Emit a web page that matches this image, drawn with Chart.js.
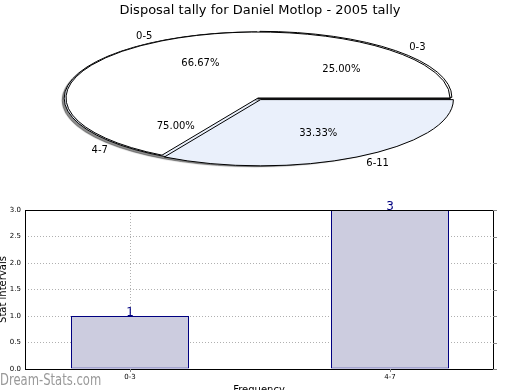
<!doctype html>
<html lang="en">
<head>
<meta charset="utf-8">
<style>
  * { margin: 0; padding: 0; }
  body { background: #fff; width: 520px; height: 390px; overflow: hidden; position: relative; }
  .layer { position: absolute; left: 0; top: 0; }
</style>
</head>
<body>
<canvas id="barChart" class="layer" width="520" height="390"></canvas>
<canvas id="pieBack" class="layer" width="520" height="200"></canvas>
<canvas id="pieFront" class="layer" width="520" height="200"></canvas>

<script src="https://cdn.jsdelivr.net/npm/chart.js/dist/chart.umd.min.js"></script>
<script>
// data
const barLabels = ['0-3', '4-7'];
const barValues = [1, 3];
const backLabels = ['0-3', '4-7'];
const backValues = [1, 3];
const frontLabels = ['0-5', '6-11'];
const frontValues = [2, 1];
const yTicks = [0, 0.5, 1, 1.5, 2, 2.5, 3];

const FONT = '"DejaVu Sans", sans-serif';
Chart.defaults.font.family = FONT;
Chart.defaults.animation = false;

// squash the round pie into the flat ellipse of the original
const ellipse = {
  id: 'ellipse',
  beforeDatasetsDraw(chart, args, opts) {
    const arc = chart.getDatasetMeta(0).data[0];
    const ctx = chart.ctx;
    const dpr = chart.currentDevicePixelRatio;
    ctx.save();
    ctx.translate(opts.cx, opts.cy);
    ctx.scale(opts.rx / arc.outerRadius, opts.ry / arc.outerRadius);
    ctx.translate(-arc.x, -arc.y);
    if (opts.shadow) {
      ctx.shadowColor = 'rgba(0,0,0,0.45)';
      ctx.shadowOffsetX = -2;
      ctx.shadowOffsetY = 2;
      ctx.shadowBlur = 1;
    }
    // keep outlines 1px wide whatever the squash
    ctx.stroke = function () {
      this.save();
      this.setTransform(dpr, 0, 0, dpr, 0, 0);
      CanvasRenderingContext2D.prototype.stroke.call(this);
      this.restore();
    };
  },
  afterDatasetsDraw(chart) {
    delete chart.ctx.stroke;
    chart.ctx.restore();
  }
};

const pieGeom = { cx: 258, cy: 98, rx: 192, ry: 66 };

function ellipsePoint(c, arc, k) {
  const mid = (arc.startAngle + arc.endAngle) / 2;
  const shift = (arc.options.offset || 0) / 4 / arc.outerRadius;
  const f = k + shift;
  return {
    x: pieGeom.cx + pieGeom.rx * f * Math.cos(mid),
    y: pieGeom.cy + pieGeom.ry * f * Math.sin(mid),
    cos: Math.cos(mid)
  };
}

let backChart;

// names and percentages of both pies, drawn last so nothing covers them
const sliceLabels = {
  id: 'sliceLabels',
  afterDraw(chart) {
    const ctx = chart.ctx;
    ctx.save();
    ctx.font = '10px ' + FONT;
    ctx.fillStyle = '#000';
    ctx.textBaseline = 'middle';
    [backChart, chart].forEach(c => {
      const names = c.data.labels;
      c.getDatasetMeta(0).data.forEach((arc, i) => {
        const pct = (arc.circumference / (2 * Math.PI) * 100).toFixed(2) + '%';
        const p = ellipsePoint(c, arc, 0.6);
        ctx.textAlign = 'center';
        ctx.fillText(pct, p.x, p.y);
        const q = ellipsePoint(c, arc, 1.1);
        ctx.textAlign = q.cos >= 0 ? 'left' : 'right';
        ctx.fillText(names[i], q.x, q.y + 1);
      });
    });
    ctx.restore();
  }
};

// pies go clockwise in Chart.js, counter-clockwise in the original: reverse
function pieConfig(labels, values, colors, offsets, extra) {
  return {
    type: 'pie',
    data: {
      labels: labels.slice().reverse(),
      datasets: [{
        data: values.slice().reverse(),
        backgroundColor: colors,
        offset: offsets,
        borderColor: '#000',
        borderWidth: 1,
        clip: false
      }]
    },
    options: {
      responsive: false,
      rotation: 90,
      radius: 90,
      events: [],
      layout: { padding: 0 },
      plugins: Object.assign({
        legend: { display: false },
        tooltip: { enabled: false },
        ellipse: Object.assign({}, pieGeom)
      }, extra)
    },
    plugins: [ellipse]
  };
}

backChart = new Chart(document.getElementById('pieBack'),
  pieConfig(backLabels, backValues, ['#eaf0fb', '#ffffff'], [2, 5], {
    ellipse: Object.assign({ shadow: true }, pieGeom)
  }));

const frontCfg = pieConfig(frontLabels, frontValues, ['#eaf0fb', '#ffffff'], [10, 0], {
  title: {
    display: true,
    text: 'Disposal tally for Daniel Motlop - 2005 tally',
    color: '#000',
    font: { size: 13, weight: 'normal', family: FONT },
    padding: { top: 3, bottom: 0 }
  }
});
frontCfg.plugins.push(sliceLabels);
const frontChart = new Chart(document.getElementById('pieFront'), frontCfg);

// bar chart decorations
const barExtras = {
  id: 'barExtras',
  afterDatasetsDraw(chart) {
    const ctx = chart.ctx;
    ctx.save();
    ctx.font = '12px ' + FONT;
    ctx.fillStyle = '#000080';
    ctx.textAlign = 'center';
    ctx.textBaseline = 'alphabetic';
    chart.getDatasetMeta(0).data.forEach((bar, i) => {
      ctx.fillText(String(barValues[i]), bar.x, bar.y);
    });
    ctx.restore();
  },
  afterDraw(chart) {
    const { ctx, chartArea: { left, top, right, bottom } } = chart;
    ctx.save();
    ctx.strokeStyle = '#000';
    ctx.lineWidth = 1;
    ctx.strokeRect(left + 0.5, top + 0.5, right - left, bottom - top);

    // little ticks poking out on the right and bottom edges
    ctx.strokeStyle = '#888';
    chart.scales.y.ticks.forEach(t => {
      const y = Math.round(chart.scales.y.getPixelForValue(t.value)) + 0.5;
      ctx.beginPath(); ctx.moveTo(right, y); ctx.lineTo(right + 4, y); ctx.stroke();
    });
    chart.scales.x.ticks.forEach(t => {
      const x = Math.round(chart.scales.x.getPixelForValue(t.value)) + 0.5;
      ctx.beginPath(); ctx.moveTo(x, bottom); ctx.lineTo(x, bottom + 3); ctx.stroke();
    });

    ctx.fillStyle = '#000';
    ctx.font = '10px ' + FONT;
    ctx.textAlign = 'center';
    ctx.textBaseline = 'top';
    ctx.fillText('Frequency', (left + right) / 2, bottom + 16);

    ctx.save();
    ctx.translate(3, (top + bottom) / 2);
    ctx.rotate(-Math.PI / 2);
    ctx.textBaseline = 'middle';
    ctx.fillText('Stat intervals', 0, 0);
    ctx.restore();

    // watermark, a bit taller than wide like the original
    ctx.save();
    ctx.translate(0, 385);
    ctx.scale(1, 1.3);
    ctx.fillStyle = '#999';
    ctx.font = '11.6px ' + FONT;
    ctx.textAlign = 'left';
    ctx.textBaseline = 'alphabetic';
    ctx.fillText('Dream-Stats.com', 0, 0);
    ctx.restore();
    ctx.restore();
  }
};

const gridStyle = { color: '#b0b0b0', drawTicks: false, lineWidth: 1, offset: false };

new Chart(document.getElementById('barChart'), {
  type: 'bar',
  data: {
    datasets: [{
      data: barValues.map((v, i) => ({ x: i, y: v })),
      backgroundColor: '#ccccdf',
      borderColor: '#000080',
      borderWidth: 1,
      borderSkipped: false,
      categoryPercentage: 118 / 260,
      barPercentage: 1
    }]
  },
  options: {
    responsive: false,
    events: [],
    layout: { padding: { top: 210, right: 27, left: 0, bottom: 0 } },
    scales: {
      x: {
        type: 'linear',
        offset: false,
        min: -105 / 260,
        max: 1 + 103 / 260,
        afterBuildTicks(s) { s.ticks = barLabels.map((_, i) => ({ value: i })); },
        afterFit(s) { s.height = 21; },
        ticks: {
          callback: v => barLabels[v],
          font: { size: 7 },
          color: '#000',
          padding: 4,
          autoSkip: false,
          maxRotation: 0
        },
        grid: gridStyle,
        border: { display: false, dash: [1, 2] }
      },
      y: {
        min: 0,
        max: 3,
        afterBuildTicks(s) { s.ticks = yTicks.map(v => ({ value: v })); },
        afterFit(s) { s.width = 25; },
        ticks: {
          callback: v => v.toFixed(1),
          font: { size: 7 },
          color: '#000',
          padding: 4
        },
        grid: gridStyle,
        border: { display: false, dash: [1, 2] }
      }
    },
    plugins: {
      legend: { display: false },
      tooltip: { enabled: false }
    }
  },
  plugins: [barExtras]
});
</script>
</body>
</html>
